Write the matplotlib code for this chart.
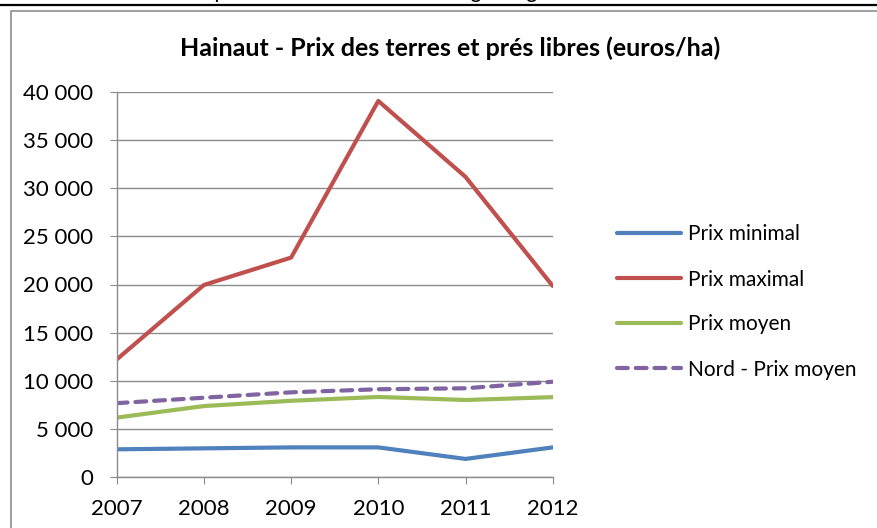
import matplotlib.pyplot as plt
from matplotlib.lines import Line2D
from matplotlib.ticker import FuncFormatter

plt.rcParams['font.family'] = ['Lato', 'DejaVu Sans']

# Données (euros/ha)
annees = [2007, 2008, 2009, 2010, 2011, 2012]
prix_minimal = [2850, 2950, 3050, 3050, 1850, 3050]
prix_maximal = [12200, 19950, 22800, 39100, 31200, 19850]
prix_moyen = [6150, 7350, 7900, 8300, 7980, 8280]
nord_prix_moyen = [7650, 8220, 8780, 9100, 9200, 9880]

W, H = 877, 528
fig = plt.figure(figsize=(W / 100, H / 100), dpi=100)

# Cadre et texte de la page autour du graphique
fig.add_artist(Line2D([0, 1], [1 - 5 / H, 1 - 5 / H], color='black', lw=1.6))
fig.add_artist(Line2D([11 / W, 11 / W, 1], [0, 1 - 11 / H, 1 - 11 / H], color='#8c8c8c', lw=1.2))
fig.text(56 / W, 1 - 2 / H, 'Prix des terres et prés libres non bâtis de la région agricole "Hainaut" et',
         fontsize=16, style='italic', ha='left', va='bottom')

ax = fig.add_axes([116.7 / W, 1 - 476.7 / H, (552.7 - 116.7) / W, (476.7 - 92.3) / H])

ax.plot(annees, prix_minimal, color='#4F81BD', lw=3, label='Prix minimal', solid_capstyle='round')
ax.plot(annees, prix_maximal, color='#C0504D', lw=3, label='Prix maximal', solid_capstyle='round')
ax.plot(annees, prix_moyen, color='#9BBB59', lw=3, label='Prix moyen', solid_capstyle='round')
ax.plot(annees, nord_prix_moyen, color='#8064A2', lw=3, ls=(0, (2.6, 1.9)), label='Nord - Prix moyen',
        dash_capstyle='round')

ax.set_xlim(2007, 2012)
ax.set_ylim(0, 40000)
ax.set_xticks(annees)
ax.set_yticks(range(0, 40001, 5000))
ax.yaxis.set_major_formatter(FuncFormatter(lambda v, p: f'{int(v):,}'.replace(',', ' ')))
ax.grid(axis='y', color='#8c8c8c', lw=1)
ax.set_axisbelow(True)
for s in ['top', 'right']:
    ax.spines[s].set_visible(False)
for s in ['left', 'bottom']:
    ax.spines[s].set_color('#8c8c8c')
    ax.spines[s].set_linewidth(1)
ax.tick_params(axis='both', direction='out', length=5, color='#8c8c8c', labelsize=16)
ax.tick_params(axis='y', pad=12)
ax.tick_params(axis='x', pad=11)

fig.text(450 / W, 1 - 48 / H, 'Hainaut - Prix des terres et prés libres (euros/ha)',
         fontsize=18, fontweight='bold', ha='center', va='center')

ax.legend(loc='center left', bbox_to_anchor=(598 / W, 1 - 302 / H), bbox_transform=fig.transFigure,
          frameon=False, fontsize=15, handlelength=3.1, handletextpad=0.3, labelspacing=1.2)

fig.savefig('out.png', dpi=100)
